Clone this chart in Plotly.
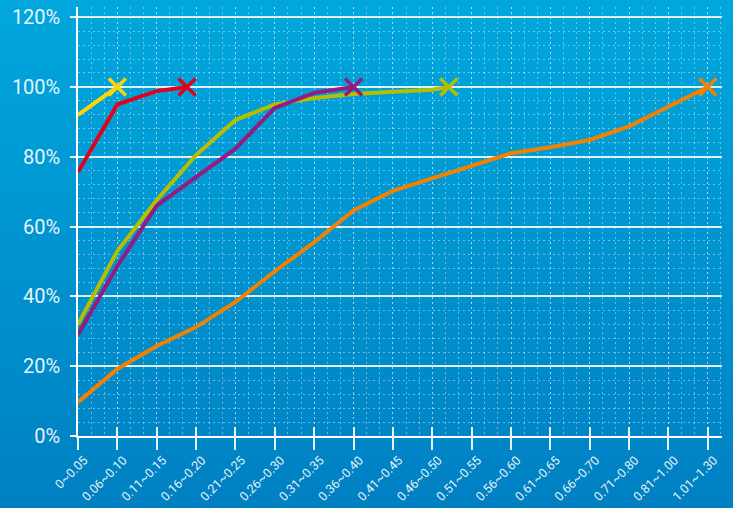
import base64
import plotly.graph_objects as go

categories = ["0~0.05", "0.06~0.10", "0.11~0.15", "0.16~0.20", "0.21~0.25", "0.26~0.30",
              "0.31~0.35", "0.36~0.40", "0.41~0.45", "0.46~0.50", "0.51~0.55", "0.56~0.60",
              "0.61~0.65", "0.66~0.70", "0.71~0.80", "0.81~1.00", "1.01~1.30"]

# cumulative percentages per category (series end in an "X" marker at 100%)
yellow = [92.0]
red = [75.6, 95.0, 98.8]
green = [32.0, 53.0, 67.6, 80.5, 90.5, 95.0, 96.8, 98.0, 98.6, 99.2]
purple = [29.0, 48.7, 66.0, 74.0, 82.3, 94.0, 98.3]
orange = [9.7, 19.2, 25.8, 31.2, 38.4, 47.2, 55.5, 64.6, 70.2, 73.8, 77.2, 81.0,
          82.7, 84.8, 88.7, 94.3]

# position (category index) of each end marker, and its value
yellow_end_x = 1.0
red_end_x = 2.77
green_end_x = 9.42
purple_end_x = 7.0
orange_end_x = 16.0
end_pct = 100.0

y_ticks = [0, 20, 40, 60, 80, 100, 120]

series = [
    ("yellow", yellow, yellow_end_x, "#FFD400"),
    ("orange", orange, orange_end_x, "#F28100"),
    ("green", green, green_end_x, "#B7BE00"),
    ("purple", purple, purple_end_x, "#951B81"),
    ("red", red, red_end_x, "#E3001B"),
]

fig = go.Figure()
for name, vals, ex, col in series:
    xs = list(range(len(vals))) + [ex]
    ys = list(vals) + [end_pct]
    fig.add_trace(go.Scatter(x=xs, y=ys, mode="lines", line=dict(color=col, width=4),
                             showlegend=False, hoverinfo="skip"))
    fig.add_trace(go.Scatter(x=[ex], y=[end_pct], mode="markers",
                             marker=dict(symbol="x-thin", size=17, color=col,
                                         line=dict(color=col, width=3.5)),
                             showlegend=False, hoverinfo="skip"))

# dummy trace on overlay axis for inside ticks
fig.add_trace(go.Scatter(x=[0], y=[0], xaxis="x2", mode="markers", marker=dict(opacity=0),
                         showlegend=False, hoverinfo="skip"))

svg = ('<svg xmlns="http://www.w3.org/2000/svg" width="733" height="508">'
       '<defs><linearGradient id="g" x1="0" y1="0" x2="0" y2="1">'
       '<stop offset="0" stop-color="#00A7DD"/><stop offset="1" stop-color="#0080C2"/>'
       '</linearGradient></defs><rect width="733" height="508" fill="url(#g)"/></svg>')
src = "data:image/svg+xml;base64," + base64.b64encode(svg.encode()).decode()

L, R, T, B = 78, 11, 7, 72
W, H = 733, 508
pw, ph = W - L - R, H - T - B

fig.add_layout_image(dict(source=src, xref="paper", yref="paper",
                          x=-L / pw, y=1 + T / ph, sizex=W / pw, sizey=H / ph,
                          xanchor="left", yanchor="top", sizing="stretch", layer="below"))

dot = "rgba(255,255,255,0.4)"
dash = "2px,3px"
xfont = dict(family="Roboto", size=12.5, color="rgba(255,255,255,0.92)")
fig.update_layout(
    width=W, height=H, margin=dict(l=L, r=R, t=T, b=B, autoexpand=False),
    paper_bgcolor="#0093CF", plot_bgcolor="rgba(0,0,0,0)",
    xaxis=dict(range=[0, 16.36], tickmode="array", tickvals=list(range(len(categories))),
               ticktext=categories, tickangle=-45, ticks="outside", ticklen=12, tickwidth=2,
               tickcolor="rgba(255,255,255,0.9)", tickfont=xfont, automargin=False,
               ticklabelshift=6, ticklabelstandoff=-2,
               showline=True, linecolor="white", linewidth=2,
               showgrid=True, gridcolor=dot, griddash=dash, gridwidth=1,
               minor=dict(dtick=1 / 3, tick0=0, showgrid=True, gridcolor=dot,
                          griddash=dash, gridwidth=1),
               zeroline=False, fixedrange=True),
    xaxis2=dict(overlaying="x", matches="x", range=[0, 16.36], tickmode="array",
                tickvals=list(range(len(categories))), ticks="inside", ticklen=9, tickwidth=2,
                tickcolor="rgba(255,255,255,0.9)", showticklabels=False, showgrid=False,
                showline=False, zeroline=False, side="bottom", automargin=False),
    yaxis=dict(range=[0, 122.9], tickmode="array", tickvals=y_ticks,
               ticktext=[f"{v}%" for v in y_ticks], ticks="outside", ticklen=6, tickwidth=2,
               tickcolor="white", automargin=False, ticklabelstandoff=6,
               tickfont=dict(family="Roboto", size=20, color="rgba(255,255,255,0.92)"),
               showline=True, linecolor="white", linewidth=1.5,
               showgrid=True, gridcolor="rgba(255,255,255,0.85)", gridwidth=2,
               minor=dict(dtick=4, tick0=0, showgrid=True, gridcolor=dot,
                          griddash=dash, gridwidth=1),
               zeroline=False, fixedrange=True),
)

fig.write_html("out.html", config={"displayModeBar": False},
               post_script="document.body.style.margin='0';document.body.style.overflow='hidden';")
